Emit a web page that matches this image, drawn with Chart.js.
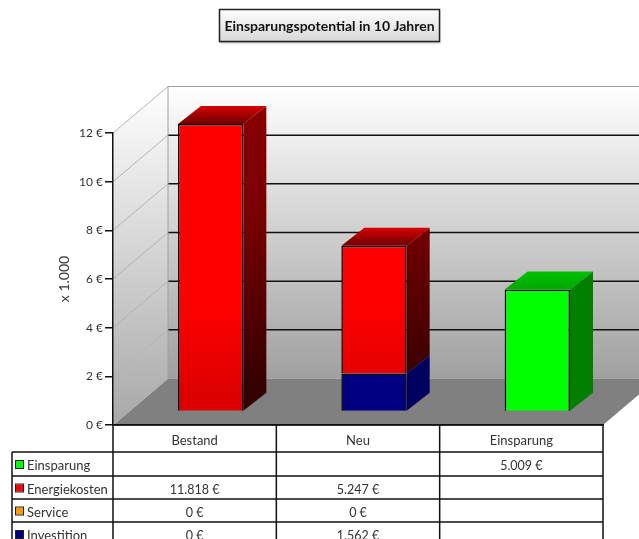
<!DOCTYPE html>
<html>
<head>
<meta charset="utf-8">
<title>Einsparungspotential</title>
<script src="https://cdn.jsdelivr.net/npm/chart.js@4"></script>
<style>
    html, body { margin: 0; background: #fff; overflow: hidden; }
    canvas { display: block; }
</style>
</head>
<body>
<canvas id="savingsChart" width="639" height="539"></canvas>
<script>
const CATEGORIES = ["Bestand", "Neu", "Einsparung"];
const INVESTITION = [0, 1562, null];
const SERVICE = [0, 0, null];
const ENERGIEKOSTEN = [11818, 5247, null];
const EINSPARUNG = [null, null, 5009];
const Y_MAX = 12000;
const Y_STEP = 2000;
const TITLE = "Einsparungspotential in 10 Jahren";
const Y_TITLE = "x 1.000";

const FONT = "Lato, 'Open Sans', sans-serif";
const TEXT_COLOR = "#333";
const LINE_COLOR = "#111";

// offset of the back wall from the axis plane, bars stand part way in
const WALL_DX = 55, WALL_DY = -46.5;
const BAR_DX = 16, BAR_DY = -13.5;
const DEPTH_DX = 23, DEPTH_DY = -18;

// table rows, top to bottom (the stack itself is built bottom-up)
const ROWS = [
    { label: "Einsparung", values: EINSPARUNG, color: "#00ff00" },
    { label: "Energiekosten", values: ENERGIEKOSTEN, color: "#ff0000" },
    { label: "Service", values: SERVICE, color: "#ff9900" },
    { label: "Investition", values: INVESTITION, color: "#000080" }
];
const ROW_LINES = [452, 476, 499, 522, 546];
const TABLE_LEFT = 12;

function euro(v) {
    return String(v).replace(/\B(?=(\d{3})+$)/g, ".") + " €";
}

function quad(ctx, pts, fill) {
    ctx.beginPath();
    ctx.moveTo(pts[0][0], pts[0][1]);
    pts.slice(1).forEach(p => ctx.lineTo(p[0], p[1]));
    ctx.closePath();
    ctx.fillStyle = fill;
    ctx.fill();
}

function vGradient(ctx, y0, y1, stops) {
    const g = ctx.createLinearGradient(0, y0, 0, y1);
    stops.forEach(s => g.addColorStop(s[0], s[1]));
    return g;
}

// side wall, back wall, floor and title box go under everything else
const roomPlugin = {
    id: "room",
    beforeDraw(chart) {
        const ctx = chart.ctx;
        const { left, right, top, bottom } = chart.chartArea;
        const y = chart.scales.y;
        const backTop = top + WALL_DY, backBottom = bottom + WALL_DY;
        const backLeft = left + WALL_DX, backRight = right + WALL_DX;

        ctx.save();
        quad(ctx, [[left, top], [backLeft, backTop], [backLeft, backBottom], [left, bottom]],
            vGradient(ctx, backTop, bottom, [[0, "#ffffff"], [1, "#a8a8a8"]]));
        quad(ctx, [[backLeft, backTop], [backRight, backTop], [backRight, backBottom], [backLeft, backBottom]],
            vGradient(ctx, backTop, backBottom, [[0, "#ffffff"], [1, "#a0a0a0"]]));
        quad(ctx, [[left, bottom], [backLeft, backBottom], [backRight, backBottom], [right, bottom]], "#808080");

        y.ticks.forEach(t => {
            const py = y.getPixelForValue(t.value);
            ctx.lineWidth = 1;
            ctx.strokeStyle = "#b4b4b4";
            ctx.beginPath();
            ctx.moveTo(left, py);
            ctx.lineTo(backLeft, py + WALL_DY);
            ctx.stroke();
            if (t.value > 0 && t.value < Y_MAX) {
                ctx.lineWidth = 1.5;
                ctx.strokeStyle = LINE_COLOR;
                ctx.beginPath();
                ctx.moveTo(backLeft, py + WALL_DY);
                ctx.lineTo(backRight, py + WALL_DY);
                ctx.stroke();
            }
        });

        ctx.lineWidth = 1;
        ctx.strokeStyle = "#a0a0a0";
        ctx.beginPath();
        ctx.moveTo(backLeft, backBottom);
        ctx.lineTo(backLeft, backTop);
        ctx.lineTo(backRight, backTop);
        ctx.stroke();

        // title box
        ctx.shadowColor = "rgba(0,0,0,0.35)";
        ctx.shadowBlur = 2;
        ctx.shadowOffsetY = 1;
        ctx.fillStyle = vGradient(ctx, 9, 41, [[0, "#ffffff"], [1, "#d8d8d8"]]);
        ctx.fillRect(219.5, 9.5, 220, 32);
        ctx.shadowColor = "transparent";
        ctx.strokeStyle = "#222";
        ctx.lineWidth = 1.5;
        ctx.strokeRect(219.5, 9.5, 220, 32);
        ctx.fillStyle = "#111";
        ctx.font = "bold 14px " + FONT;
        ctx.textAlign = "center";
        ctx.textBaseline = "middle";
        ctx.fillText(TITLE, 329.5, 26);
        ctx.restore();
    },
    // bars are pushed back into the room, then get their side and top faces
    beforeDatasetDraw(chart) {
        chart.ctx.save();
        chart.ctx.translate(BAR_DX, BAR_DY);
    },
    afterDatasetDraw(chart, args) {
        const ctx = chart.ctx;
        const ds = chart.data.datasets[args.index];
        args.meta.data.forEach((bar, i) => {
            if (!ds.data[i]) return;
            const r = bar.x + bar.width / 2;
            const l = bar.x - bar.width / 2;
            quad(ctx, [[r, bar.y], [r + DEPTH_DX, bar.y + DEPTH_DY],
                [r + DEPTH_DX, bar.base + DEPTH_DY], [r, bar.base]], ds.sideFill(ctx, chart));
            const above = chart.data.datasets.slice(args.index + 1).some(d => d.data[i]);
            if (!above) {
                quad(ctx, [[l, bar.y], [l + DEPTH_DX, bar.y + DEPTH_DY],
                    [r + DEPTH_DX, bar.y + DEPTH_DY], [r, bar.y]],
                    vGradient(ctx, bar.y + DEPTH_DY, bar.y, ds.topStops));
            }
        });
        ctx.restore();
    },
    // data table below the axis
    afterDraw(chart) {
        const ctx = chart.ctx;
        const { left, right, bottom } = chart.chartArea;
        const x = chart.scales.x;
        const colWidth = (right - left) / CATEGORIES.length;

        ctx.save();
        ctx.strokeStyle = LINE_COLOR;
        ctx.lineWidth = 1.5;
        ctx.beginPath();
        for (let c = 0; c <= CATEGORIES.length; c++) {
            ctx.moveTo(left + c * colWidth, bottom);
            ctx.lineTo(left + c * colWidth, 539);
        }
        ctx.moveTo(TABLE_LEFT, ROW_LINES[0]);
        ctx.lineTo(TABLE_LEFT, 539);
        ctx.moveTo(left, bottom);
        ctx.lineTo(right, bottom);
        ROW_LINES.forEach(y => {
            ctx.moveTo(TABLE_LEFT, y);
            ctx.lineTo(right, y);
        });
        ctx.stroke();

        ctx.textBaseline = "middle";
        ROWS.forEach((row, r) => {
            const mid = (ROW_LINES[r] + ROW_LINES[r + 1]) / 2 + 1;
            ctx.fillStyle = row.color;
            ctx.fillRect(16, mid - 4, 7, 7);
            ctx.strokeStyle = "#222";
            ctx.lineWidth = 1;
            ctx.strokeRect(15.5, mid - 4.5, 8, 8);
            ctx.fillStyle = TEXT_COLOR;
            ctx.font = "13px " + FONT;
            ctx.textAlign = "left";
            ctx.fillText(row.label, 27, mid + 1);
            ctx.font = "12.5px " + FONT;
            ctx.textAlign = "center";
            row.values.forEach((v, c) => {
                if (v !== null) ctx.fillText(euro(v), x.getPixelForValue(c), mid + 1);
            });
        });
        ctx.restore();
    }
};

const ctx = document.getElementById("savingsChart").getContext("2d");

// front face of the red stack darkens towards the floor
const redFront = vGradient(ctx, 320, 411, [[0, "#ff0000"], [1, "#dc0000"]]);
const redStops = [[0, "#d80000"], [1, "#6c0000"]];

new Chart(ctx, {
    type: "bar",
    data: {
        labels: CATEGORIES,
        datasets: [
            {
                label: "Investition", data: INVESTITION, backgroundColor: "#000080",
                sideFill: () => "#000060", topStops: [[0, "#000080"], [1, "#000050"]]
            },
            {
                label: "Service", data: SERVICE, backgroundColor: "#ff9900",
                sideFill: () => "#995c00", topStops: [[0, "#cc7a00"], [1, "#805000"]]
            },
            {
                label: "Energiekosten", data: ENERGIEKOSTEN, backgroundColor: redFront,
                sideFill: c => vGradient(c, 110, 400, [[0, "#8a0000"], [0.4, "#7a0000"], [1, "#340000"]]),
                topStops: redStops
            },
            {
                label: "Einsparung", data: EINSPARUNG, backgroundColor: "#00ff00",
                sideFill: () => "#008000", topStops: [[0, "#00c000"], [1, "#00a800"]]
            }
        ].map(d => Object.assign(d, {
            stack: "kosten",
            clip: false,
            borderColor: "#000",
            borderWidth: 1.5,
            barPercentage: 0.4,
            categoryPercentage: 1
        }))
    },
    options: {
        responsive: false,
        animation: false,
        layout: { padding: { left: 56, top: 133, right: 36, bottom: 0 } },
        plugins: { legend: { display: false }, tooltip: { enabled: false }, title: { display: false } },
        scales: {
            x: {
                stacked: true,
                afterFit(axis) { axis.height = 114; },
                grid: { display: false },
                border: { color: LINE_COLOR, width: 1.5 },
                ticks: { color: TEXT_COLOR, padding: 0, maxRotation: 0, font: { family: FONT, size: 13 } }
            },
            y: {
                stacked: true,
                min: 0,
                max: Y_MAX,
                afterFit(axis) { axis.width = 57; },
                title: { display: true, text: Y_TITLE, color: TEXT_COLOR, padding: 0, font: { family: FONT, size: 14 } },
                grid: { drawOnChartArea: false, color: LINE_COLOR, tickLength: 8, lineWidth: 1.5 },
                border: { color: LINE_COLOR, width: 1.5 },
                ticks: {
                    stepSize: Y_STEP,
                    color: TEXT_COLOR,
                    padding: 2,
                    font: { family: FONT, size: 12 },
                    callback: v => (v / 1000) + " €"
                }
            }
        }
    },
    plugins: [roomPlugin]
});
</script>
</body>
</html>
